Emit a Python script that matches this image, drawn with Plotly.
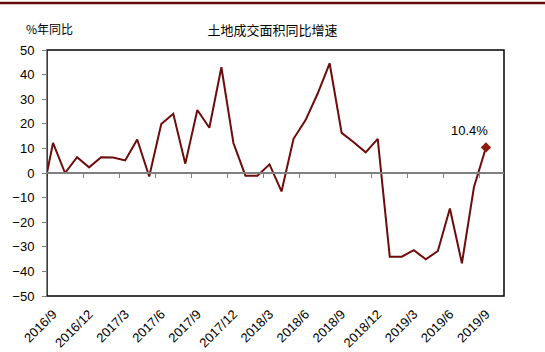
import plotly.graph_objects as go

# Monthly series (index 0 = 2016/9); one earlier month (2016/8) is partly clipped by the axis
months = ["2016/8", "2016/9", "2016/10", "2016/11", "2016/12", "2017/1", "2017/2", "2017/3",
          "2017/4", "2017/5", "2017/6", "2017/7", "2017/8", "2017/9", "2017/10",
          "2017/11", "2017/12", "2018/1", "2018/2", "2018/3", "2018/4", "2018/5",
          "2018/6", "2018/7", "2018/8", "2018/9", "2018/10", "2018/11", "2018/12",
          "2019/1", "2019/2", "2019/3", "2019/4", "2019/5", "2019/6", "2019/7",
          "2019/8", "2019/9"]
values = [-12.0, 12.2, 0.0, 6.4, 2.3, 6.4, 6.3, 5.1, 13.6, -1.4, 19.9, 24.1, 3.8, 25.6,
          18.4, 43.0, 12.2, -1.1, -1.1, 3.5, -7.5, 13.9, 21.5, 32.2, 44.6, 16.3,
          12.5, 8.4, 13.9, -34.0, -34.0, -31.4, -35.1, -31.7, -14.4, -36.7, -5.8, 10.4]
tick_labels = ["2016/9", "2016/12", "2017/3", "2017/6", "2017/9", "2017/12", "2018/3",
               "2018/6", "2018/9", "2018/12", "2019/3", "2019/6", "2019/9"]
y_ticks = [-50, -40, -30, -20, -10, 0, 10, 20, 30, 40, 50]
title_text = "土地成交面积同比增速"
unit_text = "%年同比"
last_label = "10.4%"

idx = {m: i - 1 for i, m in enumerate(months)}  # 2016/9 -> 0
x_vals = [idx[m] for m in months]
label_pos = [idx[t] for t in tick_labels]
boundary_ticks = [p + 2.5 for p in label_pos[:-1]]

LINE = "#6E0B0B"
font_num = "Liberation Sans"
font_cjk = "Noto Sans CJK SC"

fig = go.Figure()
fig.add_trace(go.Scatter(x=x_vals, y=values, mode="lines",
                         line=dict(color=LINE, width=2), cliponaxis=True,
                         showlegend=False, hoverinfo="skip"))
fig.add_trace(go.Scatter(x=[x_vals[-1]], y=[values[-1]], mode="markers",
                         marker=dict(symbol="diamond", size=8, color="#8B1A0A"),
                         showlegend=False, xaxis="x", yaxis="y"))
# carrier for the tick marks along the zero line
fig.add_trace(go.Scatter(x=[x_vals[-1]], y=[values[-1]], mode="markers",
                         marker=dict(size=1, opacity=0), showlegend=False,
                         xaxis="x2", yaxis="y", hoverinfo="skip"))

fig.add_annotation(x=x_vals[-1], y=values[-1], text=last_label, showarrow=False,
                   xshift=-16, yshift=17, font=dict(family=font_num, size=13, color="#000000"))
fig.add_annotation(xref="paper", yref="paper", x=-0.05, y=1.089, text=unit_text,
                   showarrow=False, xanchor="left", yanchor="middle",
                   font=dict(family=font_cjk, size=12, color="#000000"))

fig.add_shape(type="rect", xref="x domain", yref="y domain", x0=0, x1=1, y0=0, y1=1,
              line=dict(color="#000000", width=1.5), layer="below")
fig.add_shape(type="line", xref="paper", yref="paper", x0=-0.2, x1=1.2,
              y0=(296 - 3) / 246, y1=(296 - 3) / 246,
              line=dict(color="#640A0A", width=2.5))

fig.update_layout(
    width=545, height=352,
    margin=dict(l=47, r=41, t=50, b=56, autoexpand=False),
    paper_bgcolor="white", plot_bgcolor="white",
    title=dict(text=title_text, x=0.5, xref="container", xanchor="center",
               y=1 - 30 / 352, yanchor="middle",
               font=dict(family=font_cjk, size=13, color="#000000")),
    xaxis=dict(range=[-0.5, 37.5], tickmode="array", tickvals=label_pos,
               ticktext=tick_labels, tickangle=-45, ticks="", showgrid=False,
               zeroline=False, showline=False, ticklabelstandoff=7, automargin=False,
               tickfont=dict(family=font_num, size=13, color="#000000")),
    xaxis2=dict(range=[-0.5, 37.5], overlaying="x", anchor="free", position=0.5,
                side="bottom", tickmode="array", tickvals=boundary_ticks,
                showticklabels=False, ticks="outside", ticklen=4, automargin=False,
                tickcolor="#808080", tickwidth=1, showline=True,
                linecolor="#808080", linewidth=1.5, showgrid=False, zeroline=False),
    yaxis=dict(range=[-50, 50], tickmode="array", tickvals=y_ticks,
               showgrid=False, zeroline=False, showline=True, linecolor="#808080",
               linewidth=1, ticks="outside", ticklen=4, tickcolor="#808080",
               ticklabelstandoff=5, automargin=False,
               tickfont=dict(family=font_num, size=13, color="#000000")),
)

fig.write_html("out.html")
